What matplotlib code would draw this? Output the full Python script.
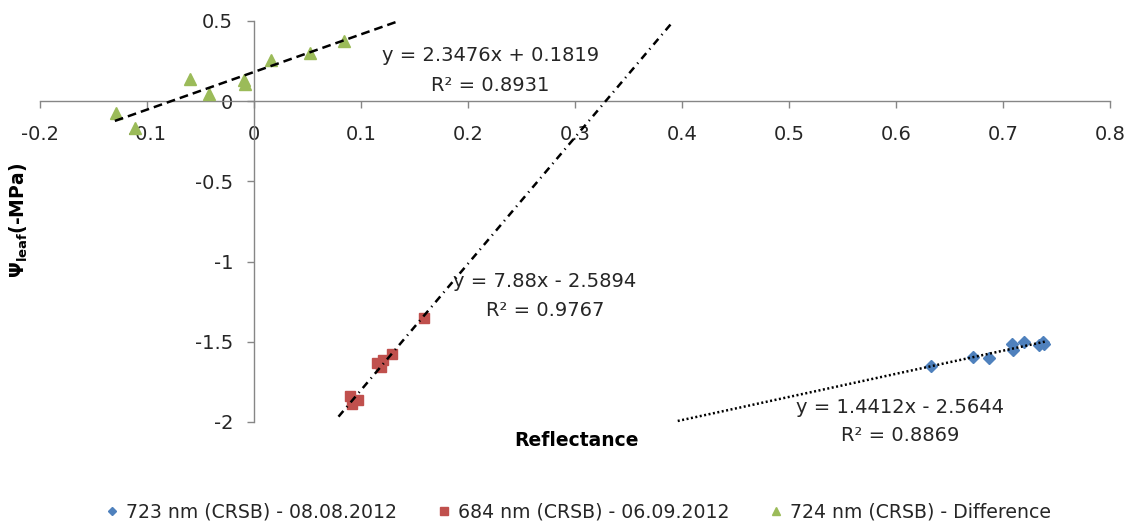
import numpy as np
import matplotlib.pyplot as plt
from matplotlib.ticker import FuncFormatter

plt.rcParams['font.family'] = ['DejaVu Sans']
plt.rcParams['mathtext.fontset'] = 'dejavusans'

# 723 nm (CRSB) - 08.08.2012
x_723 = [0.633, 0.672, 0.687, 0.708, 0.709, 0.720, 0.734, 0.737, 0.738]
y_723 = [-1.65, -1.595, -1.60, -1.515, -1.55, -1.50, -1.52, -1.50, -1.515]

# 684 nm (CRSB) - 06.09.2012
x_684 = [0.090, 0.092, 0.097, 0.115, 0.119, 0.121, 0.129, 0.159]
y_684 = [-1.84, -1.89, -1.86, -1.63, -1.66, -1.615, -1.575, -1.35]

# 724 nm (CRSB) - Difference
x_724 = [-0.129, -0.111, -0.060, -0.042, -0.009, -0.008, 0.016, 0.052, 0.084]
y_724 = [-0.073, -0.168, 0.137, 0.043, 0.13, 0.106, 0.255, 0.30, 0.373]

labels = ['723 nm (CRSB) - 08.08.2012', '684 nm (CRSB) - 06.09.2012',
          '724 nm (CRSB) - Difference']

# linear trendlines: slope, intercept, R², x span
fits = [(1.4412, -2.5644, 0.8869, (0.396, 0.74)),
        (7.88, -2.5894, 0.9767, (0.079, 0.3922)),
        (2.3476, 0.1819, 0.8931, (-0.13, 0.1355))]

fig = plt.figure(figsize=(11.32, 5.24), dpi=100)
ax = fig.add_axes([0.0353, 0.1947, 0.9453, 0.7653])

axis_col = '#868686'
for s in ['top', 'right']:
    ax.spines[s].set_visible(False)
ax.spines['left'].set_position(('data', 0))
ax.spines['bottom'].set_position(('data', 0))
for s in ['left', 'bottom']:
    ax.spines[s].set_color(axis_col)
    ax.spines[s].set_linewidth(1.0)

ax.set_xlim(-0.2, 0.8)
ax.set_ylim(-2, 0.5)
ax.set_xticks(np.arange(-0.2, 0.81, 0.1))
ax.set_yticks(np.arange(-2, 0.51, 0.5))
fmt = FuncFormatter(lambda v, p: '%g' % round(v, 2))
ax.xaxis.set_major_formatter(fmt)
ax.yaxis.set_major_formatter(fmt)
ax.tick_params(axis='both', direction='out', length=5, width=1,
               color=axis_col, labelsize=14, labelcolor='#262626')
ax.tick_params(axis='x', pad=12)
ax.tick_params(axis='y', pad=10)

h1, = ax.plot(x_723, y_723, 'D', color='#4F81BD', ms=6, mec='#4F81BD',
              linestyle='none', zorder=3)
h2, = ax.plot(x_684, y_684, 's', color='#C0504D', ms=7.5, mec='#C0504D',
              linestyle='none', zorder=3)
h3, = ax.plot(x_724, y_724, '^', color='#9BBB59', ms=8.5, mec='#9BBB59',
              linestyle='none', zorder=3)

styles = [(0, (0.8, 1.0)), (0, (3, 2, 0.5, 2)), (0, (3.5, 2))]
for (m, b, r2, (x0, x1)), ls in zip(fits, styles):
    xs = np.array([x0, x1])
    ax.plot(xs, m * xs + b, color='black', lw=1.8, linestyle=ls,
            zorder=4, clip_on=False)

# trendline equations
eq_pos = [(0.604, -1.907, -2.087), (0.272, -1.124, -1.304),
          (0.221, 0.286, 0.099)]
for (m, b, r2, _), (tx, ty1, ty2) in zip(fits, eq_pos):
    sign = '+' if b >= 0 else '-'
    ax.text(tx, ty1, 'y = %gx %s %g' % (m, sign, abs(b)), ha='center',
            va='center', fontsize=14, color='#262626')
    ax.text(tx, ty2, 'R² = %g' % r2, ha='center', va='center',
            fontsize=14, color='#262626', clip_on=False)

fig.text(576 / 1132, 1 - 441 / 524, 'Reflectance', ha='center', va='center',
         fontsize=13.5, fontweight='bold')
fig.text(19 / 1132, 1 - 220 / 524, r'$\mathbf{\Psi_{leaf}}$(-MPa)',
         rotation=90, ha='center', va='center', fontsize=13.5,
         fontweight='bold')

fig.legend([h1, h2, h3], labels, loc='center', ncol=3,
           bbox_to_anchor=(0.51, 1 - 512 / 524), frameon=False, fontsize=13.6,
           markerscale=0.7, handletextpad=0.3, columnspacing=2.0,
           handlelength=0.9, labelcolor='#262626')

fig.savefig('out.png', dpi=100)
